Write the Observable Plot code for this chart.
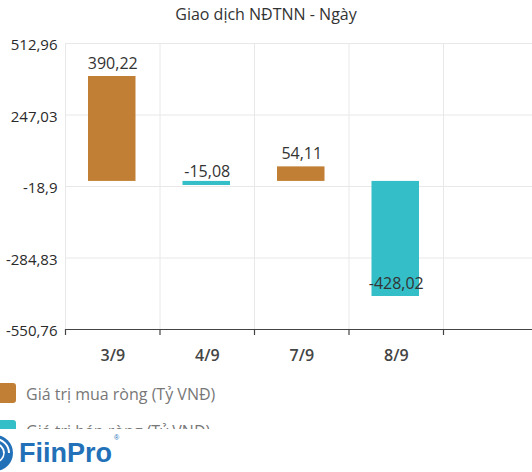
<!DOCTYPE html>
<html>
<head>
<meta charset="utf-8">
<script src="https://cdn.jsdelivr.net/npm/d3@7"></script>
<script src="https://cdn.jsdelivr.net/npm/@observablehq/plot@0.6"></script>
<style>
  html, body { margin: 0; padding: 0; background: #fff; }
  body { width: 532px; height: 472px; overflow: hidden; position: relative; font-family: "Open Sans", sans-serif; }
  #title { height: 28px; line-height: 28px; text-align: center; font-size: 16px; color: #333; }
  #chart svg { display: block; }
  #legend { position: absolute; left: 0; top: 373px; width: 532px; height: 56px; overflow: hidden; }
  .item { position: absolute; left: 0; height: 20px; }
  .sw { position: absolute; left: -4px; top: 0; width: 20px; height: 20px; border-radius: 3px; }
  .lab { position: absolute; left: 26px; top: -1px; font-size: 16px; color: #777; white-space: nowrap; line-height: 24px; }
  #logo { position: absolute; left: 0; top: 429px; width: 532px; height: 43px; background: #fff; }
</style>
</head>
<body>
<div id="title">Giao dịch NĐTNN - Ngày</div>
<div id="chart"></div>
<div id="legend"></div>
<div id="logo">
  <svg width="140" height="43" style="position:absolute;left:0;top:0">
    <circle cx="-5" cy="24" r="18" fill="#2271b8"/>
    <path d="M -5 10 A 14 14 0 0 1 9 24" fill="none" stroke="#fff" stroke-width="2"/>
    <path d="M -5 15 A 9 9 0 0 1 4 24" fill="none" stroke="#fff" stroke-width="2"/>
    <path d="M -5 33 A 9 9 0 0 0 4 24" fill="none" stroke="#fff" stroke-width="1.5"/>
    <text x="19" y="33" font-family="Liberation Sans, Arial, sans-serif" font-weight="bold" font-size="27" fill="#2271b8">FiinPro</text>
    <text x="114" y="11" font-family="Liberation Sans, Arial, sans-serif" font-size="7" fill="#2271b8">®</text>
  </svg>
</div>
<script>
const categories = ["3/9", "4/9", "7/9", "8/9"];
const values = [390.22, -15.08, 54.11, -428.02];
const seriesNames = ["Giá trị mua ròng (Tỷ VNĐ)", "Giá trị bán ròng (Tỷ VNĐ)"];
const seriesColors = ["#c17f35", "#34bec8"];
const yTicks = [512.96, 247.03, -18.9, -284.83, -550.76];
const slotCount = 5; // visible category slots (last one empty)

const fmt = v => String(v).replace(".", ",");
const rows = categories.map((c, i) => ({
  i, cat: c, v: values[i], s: values[i] >= 0 ? seriesNames[0] : seriesNames[1]
}));
const yMin = d3.min(yTicks), yMax = d3.max(yTicks);
const bounds = d3.range(slotCount + 1);

const labelsAbove = rows.filter(d => d.v >= 0);
const labelsSmallNeg = rows.filter(d => d.v < 0 && d.v > -100);
const labelsInside = rows.filter(d => d.v <= -100);

const chart = Plot.plot({
  width: 532,
  height: 345,
  marginTop: 15,
  marginBottom: 44,
  marginLeft: 65,
  marginRight: 0,
  style: { fontFamily: "Open Sans, sans-serif", background: "#fff" },
  x: { type: "linear", domain: [0, slotCount], range: [65, 537.5], axis: null },
  y: { type: "linear", domain: [yMin, yMax], axis: null },
  color: { domain: seriesNames, range: seriesColors },
  marks: [
    Plot.gridY(yTicks, { stroke: "#e8e8e8", strokeOpacity: 1 }),
    Plot.gridX(bounds, { stroke: "#e8e8e8", strokeOpacity: 1 }),
    Plot.rectY(rows, { x1: "i", x2: d => d.i + 1, y1: 0, y2: "v", fill: "s", insetLeft: 23, insetRight: 24 }),
    Plot.ruleY([yMin], { stroke: "#444", strokeWidth: 1.2 }),
    Plot.ruleX(bounds, { x: d => d, y1: yMin, y2: yMin, insetBottom: -6, stroke: "#444", strokeWidth: 1.2 }),
    Plot.text(yTicks, { x: 0, y: d => d, text: fmt, textAnchor: "end", dx: -8, dy: 2, fontSize: 15, fill: "#2a2a2a" }),
    Plot.text(rows, { x: d => d.i + 0.5, y: yMin, text: "cat", dy: 26, fontSize: 16, fontWeight: 600, fill: "#444" }),
    Plot.text(labelsAbove, { x: d => d.i + 0.5, y: "v", text: d => fmt(d.v), dy: -13, fontSize: 16, fill: "#333" }),
    Plot.text(labelsSmallNeg, { x: d => d.i + 0.5, y: 0, text: d => fmt(d.v), dy: -10, fontSize: 16, fill: "#333" }),
    Plot.text(labelsInside, { x: d => d.i + 0.5, y: "v", text: d => fmt(d.v), dy: -13, fontSize: 16, fill: "#333" })
  ]
});
document.getElementById("chart").appendChild(chart);

const legend = document.getElementById("legend");
seriesNames.forEach((name, k) => {
  const item = document.createElement("div");
  item.className = "item";
  item.style.top = (10 + k * 37) + "px";
  const sw = document.createElement("div");
  sw.className = "sw";
  sw.style.background = seriesColors[k];
  const lab = document.createElement("div");
  lab.className = "lab";
  lab.textContent = name;
  item.appendChild(sw);
  item.appendChild(lab);
  legend.appendChild(item);
});
</script>
</body>
</html>
